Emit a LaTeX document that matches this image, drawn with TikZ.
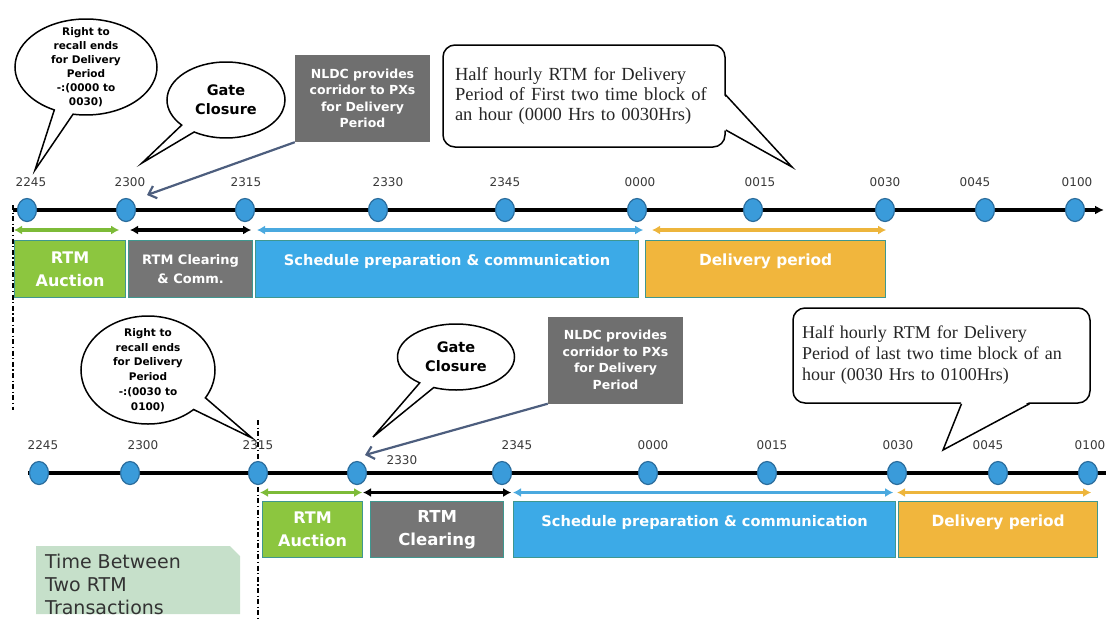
\documentclass[tikz,border=0pt]{standalone}
\usepackage{fontspec}
\setmainfont{DejaVu Sans}
\newfontfamily\notefont{Liberation Serif}
\usetikzlibrary{shapes.geometric,shapes.callouts,arrows.meta,calc}

\definecolor{dotblue}{HTML}{3A9BDA}
\definecolor{dotedge}{HTML}{2A6C9C}
\definecolor{auctiongreen}{HTML}{8CC63F}
\definecolor{arrowgreen}{HTML}{7DBB38}
\definecolor{clearinggray}{HTML}{757575}
\definecolor{nldcgray}{HTML}{6F6F6F}
\definecolor{scheduleblue}{HTML}{3CAAE7}
\definecolor{arrowblue}{HTML}{4AA9DF}
\definecolor{deliveryorange}{HTML}{F1B63D}
\definecolor{arroworange}{HTML}{EDB53C}
\definecolor{phaseedge}{HTML}{3F978F}
\definecolor{corridor}{HTML}{4D5E7E}
\definecolor{notegreen}{HTML}{C6E0CA}
\definecolor{ticktext}{HTML}{383838}

\tikzset{
  timedot/.style={ellipse, draw=dotedge, fill=dotblue, line width=1.2pt, minimum width=19pt, minimum height=23pt, inner sep=0pt},
  timelabel/.style={text=ticktext, font=\fontsize{12}{14}\selectfont, inner sep=0pt},
  phasebox/.style={draw=phaseedge, line width=1.2pt, anchor=north west, text=white, align=center, inner sep=0pt},
  raisedtext/.style={text depth=18pt},
  spanarrow/.style={line width=3.5pt, {Latex[length=8pt,width=9pt]}-{Latex[length=8pt,width=9pt]}},
  bubble/.style={ellipse callout, draw=black, fill=white, line width=1.5pt, callout pointer arc=16},
  recalltxt/.style={align=center, inner sep=0pt, font=\bfseries\fontsize{10.5}{14}\selectfont},
  gatetxt/.style={align=center, inner sep=0pt, font=\bfseries\fontsize{14.5}{19}\selectfont},
  nldcbox/.style={fill=nldcgray, text=white, align=center, font=\bfseries\fontsize{12.5}{16.5}\selectfont, minimum width=135pt, minimum height=87pt, inner sep=0pt},
  feed/.style={corridor, line width=2.2pt, -{Straight Barb[length=7pt,width=13pt]}},
  halfhour/.style={draw=black, fill=white, line width=1.5pt, rounded corners=12pt, align=left, text=black!85, font=\notefont\fontsize{18.5}{20}\selectfont},
  cutline/.style={line width=1.5pt, dash pattern=on 5pt off 2.5pt on 1.2pt off 2.5pt}
}

\begin{document}
\begin{tikzpicture}[x=1pt,y=-1pt]
  \useasboundingbox (0,0) rectangle (1106,619);

  % markers between the two transactions
  \draw[cutline] (13,205) -- (13,410);
  \draw[cutline] (258,420) -- (258,619);

  % first timeline
  \coordinate (topstart) at (13,210);
  \coordinate (topend) at (1104,210);
  \draw[line width=3.5pt, -{Latex[length=9pt,width=9pt]}] (topstart) -- (topend);
  \foreach \t/\x/\lx in {2245/27/31, 2300/126/130, 2315/245/246, 2330/378/388, 2345/505/505,
                         0000/637/640, 0015/753/760, 0030/885/885, 0045/985/975, 0100/1075/1077} {
    \node[timedot] (a\t) at (\x,210) {};
    \node[timelabel] (la\t) at (\lx,182) {\t};
  }

  % phases of the first transaction
  \node[phasebox, fill=auctiongreen, minimum width=111pt, minimum height=57pt,
        font=\bfseries\fontsize{16}{23}\selectfont] (auc1) at (14,240) {RTM\\Auction};
  \node[phasebox, fill=clearinggray, minimum width=124pt, minimum height=57pt,
        font=\bfseries\fontsize{13}{19}\selectfont] (clr1) at (128,240) {RTM Clearing\\\& Comm.};
  \node[phasebox, raisedtext, fill=scheduleblue, minimum width=383pt, minimum height=57pt,
        font=\bfseries\fontsize{14.6}{18}\selectfont] (sch1) at (255,240) {Schedule preparation \& communication};
  \node[phasebox, raisedtext, fill=deliveryorange, minimum width=240pt, minimum height=57pt,
        font=\bfseries\fontsize{15.4}{18}\selectfont] (del1) at (645,240) {Delivery period};

  \draw[spanarrow, arrowgreen] ([yshift=10pt]auc1.north west) -- ([yshift=10pt,xshift=-7pt]auc1.north east);
  \draw[spanarrow, black] ([yshift=10pt,xshift=2pt]clr1.north west) -- ([yshift=10pt,xshift=-2pt]clr1.north east);
  \draw[spanarrow, arrowblue] ([yshift=10pt,xshift=2pt]sch1.north west) -- ([yshift=10pt,xshift=4pt]sch1.north east);
  \draw[spanarrow, arroworange] ([yshift=10pt,xshift=7pt]del1.north west) -- ([yshift=10pt]del1.north east);

  % notes of the first transaction
  \coordinate (recall1tip) at (35,170);
  \node[bubble, minimum width=142pt, minimum height=96pt, callout absolute pointer={(recall1tip)}] (recall1) at (86,67) {};
  \node[recalltxt] (recall1text) at (recall1.center) {Right to\\recall ends\\for Delivery\\Period\\-:(0000 to\\0030)};
  \coordinate (gate1tip) at (142,163);
  \node[bubble, minimum width=118pt, minimum height=76pt, callout absolute pointer={(gate1tip)}] (gate1) at (226,100) {};
  \node[gatetxt] (gate1text) at (gate1.center) {Gate\\Closure};

  \node[nldcbox] (nldc1) at (362.5,98.5) {NLDC provides\\corridor to PXs\\for Delivery\\Period};
  \draw[feed] (nldc1.south west) -- ([xshift=21pt,yshift=15pt]a2300.center);

  \node[halfhour, text width=258pt, inner xsep=12pt, minimum height=102pt] (hh1) at (584,96)
    {Half hourly RTM for Delivery\\Period of First two time block of\\an hour (0000 Hrs to 0030Hrs)};
  \coordinate (hh1tip) at (792,167);
  \fill[white] ($(hh1.east)+(-2,-1)$) -- (hh1tip) -- ($(hh1.east)+(-2,34)$) -- cycle;
  \draw[line width=1.5pt] ($(hh1.east)+(0,-1)$) -- (hh1tip) -- ($(hh1.east)+(0,34)$);

  % second timeline
  \coordinate (botstart) at (28,473);
  \coordinate (botend) at (1106,473);
  \draw[line width=3.5pt] (botstart) -- (botend);
  \foreach \t/\x/\lx/\ly in {2245/39/43/445, 2300/130/143/445, 2315/258/258/445, 2330/357/402/460,
                             2345/502/517/445, 0000/648/653/445, 0015/767/772/445, 0030/897/898/445,
                             0045/998/988/445, 0100/1088/1090/445} {
    \node[timedot] (b\t) at (\x,473) {};
    \node[timelabel] (lb\t) at (\lx,\ly) {\t};
  }

  % phases of the second transaction
  \node[phasebox, fill=auctiongreen, minimum width=100pt, minimum height=56pt,
        font=\bfseries\fontsize{16}{23}\selectfont] (auc2) at (262,501) {RTM\\Auction};
  \node[phasebox, fill=clearinggray, minimum width=133pt, minimum height=56pt,
        font=\bfseries\fontsize{16.5}{23}\selectfont] (clr2) at (370,501) {RTM\\Clearing};
  \node[phasebox, raisedtext, fill=scheduleblue, minimum width=382pt, minimum height=56pt,
        font=\bfseries\fontsize{14.6}{18}\selectfont] (sch2) at (513,501) {Schedule preparation \& communication};
  \node[phasebox, raisedtext, fill=deliveryorange, minimum width=199pt, minimum height=56pt,
        font=\bfseries\fontsize{15.4}{18}\selectfont] (del2) at (898,501) {Delivery period};

  \draw[spanarrow, arrowgreen] ([yshift=8.5pt,xshift=-2pt]auc2.north west) -- ([yshift=8.5pt,xshift=-1pt]auc2.north east);
  \draw[spanarrow, black] ([yshift=8.5pt,xshift=-7pt]clr2.north west) -- ([yshift=8.5pt,xshift=7pt]clr2.north east);
  \draw[spanarrow, arrowblue] ([yshift=8.5pt]sch2.north west) -- ([yshift=8.5pt,xshift=-3pt]sch2.north east);
  \draw[spanarrow, arroworange] ([yshift=8.5pt,xshift=-1pt]del2.north west) -- ([yshift=8.5pt,xshift=-7pt]del2.north east);

  % notes of the second transaction
  \coordinate (recall2tip) at (252,438);
  \node[bubble, minimum width=134pt, minimum height=108pt, callout absolute pointer={(recall2tip)}] (recall2) at (148,370) {};
  \node[recalltxt, font=\bfseries\fontsize{10.5}{14.8}\selectfont] (recall2text) at (recall2.center)
    {Right to\\recall ends\\for Delivery\\Period\\-:(0030 to\\0100)};
  \coordinate (gate2tip) at (373,437);
  \node[bubble, minimum width=117pt, minimum height=66pt, callout absolute pointer={(gate2tip)}] (gate2) at (456,357) {};
  \node[gatetxt] (gate2text) at (gate2.center) {Gate\\Closure};

  \node[nldcbox] (nldc2) at (615.5,360) {NLDC provides\\corridor to PXs\\for Delivery\\Period};
  \draw[feed] (nldc2.south west) -- ([xshift=8pt,yshift=18pt]b2330.center);

  \node[halfhour, text width=279pt, inner xsep=9pt, minimum height=95pt,
        font=\notefont\fontsize{18}{21}\selectfont] (hh2) at (941.5,355.5)
    {Half hourly RTM for Delivery\\Period of last two time block of an\\hour (0030 Hrs to 0100Hrs)};
  \coordinate (hh2tip) at (943,450);
  \fill[white] ($(hh2.south)+(20,-2)$) -- (hh2tip) -- ($(hh2.south)+(88,-2)$) -- cycle;
  \draw[line width=1.5pt] ($(hh2.south)+(20,0)$) -- (hh2tip) -- ($(hh2.south)+(88,0)$);

  % time between the transactions
  \fill[notegreen] (36,546) -- (230,546) -- (240,556) -- (240,614) -- (36,614) -- cycle;
  \node[anchor=north west, inner sep=0pt, align=left, text=black!80,
        font=\fontsize{19}{23}\selectfont] (gapnote) at (45,554) {Time Between\\Two RTM\\Transactions};
\end{tikzpicture}
\end{document}
